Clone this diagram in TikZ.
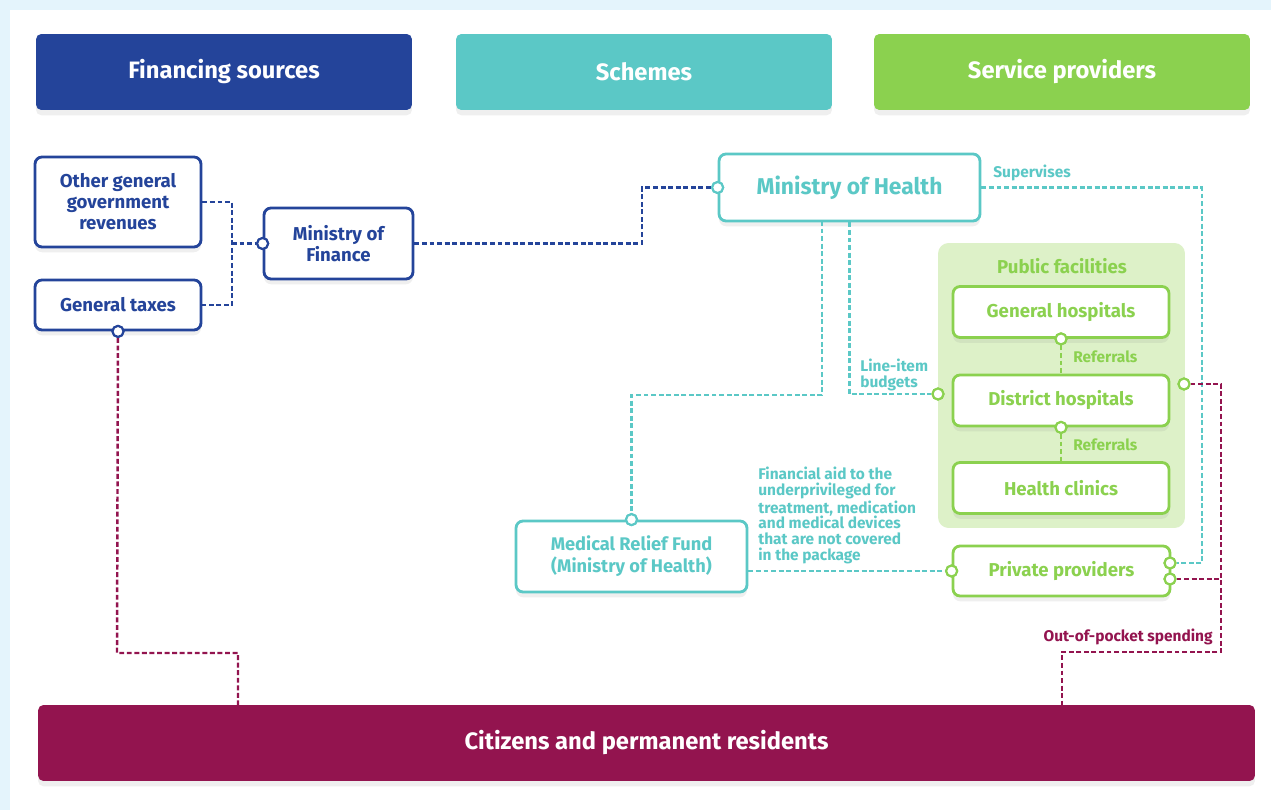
\documentclass[tikz,border=0pt]{standalone}
\usepackage{fontspec}
\setmainfont{Fira Sans}
\usetikzlibrary{positioning, calc, shadows}
\definecolor{finblue}{HTML}{24449A}
\definecolor{schteal}{HTML}{5BC8C6}
\definecolor{provgreen}{HTML}{8BD14F}
\definecolor{popmag}{HTML}{93144F}
\definecolor{panelgreen}{HTML}{DDF1C8}
\definecolor{bgblue}{HTML}{E4F4FC}
\tikzset{
    softshadow/.style={drop shadow={opacity=0.12, shadow xshift=0pt, shadow yshift=-3pt}},
    header/.style={fill=#1, rounded corners=3pt, minimum width=7.52cm, minimum height=1.52cm, text=white, font=\bfseries\fontsize{13.5}{15}\selectfont, softshadow},
    unit/.style={draw=#1, text=#1, fill=white, line width=1.6pt, rounded corners=4pt, align=center, font=\bfseries\fontsize{10.6}{12}\selectfont, softshadow},
    port/.style={circle, draw=#1, fill=white, line width=1.2pt, inner sep=0pt, minimum size=0.22cm},
    flow/.style={draw=#1, line width=1.4pt, dash pattern=on 2.8pt off 1.5pt},
    note/.style={text=#1, font=\bfseries\fontsize{8.8}{8.9}\selectfont, align=left, inner sep=0pt}
}
\begin{document}
\begin{tikzpicture}[x=0.02cm, y=-0.02cm]
    % background
    \fill[bgblue] (0,0) rectangle (1271,810);
    \fill[white] (10,10) rectangle (1271,810);

    % column headers
    \node (fin) [header=finblue] at (224,72) {Financing sources};
    \node (schemes) [header=schteal] at (644,72) {Schemes};
    \node (providers) [header=provgreen] at (1062,72) {Service providers};

    % financing sources
    \node (ogr) [unit=finblue, minimum width=3.32cm, minimum height=1.8cm] at (118,202) {Other general\\government\\revenues};
    \node (taxes) [unit=finblue, minimum width=3.32cm, minimum height=1cm] at (118,305) {General taxes};
    \node (mof) [unit=finblue, minimum width=2.98cm, minimum height=1.42cm] at (338.5,243.5) {Ministry of\\Finance};

    % schemes
    \node (moh) [unit=schteal, minimum width=5.22cm, minimum height=1.34cm, font=\bfseries\fontsize{13}{15}\selectfont] at (849.5,187.5) {Ministry of Health};
    \node (mrf) [unit=schteal, minimum width=4.62cm, minimum height=1.42cm, font=\bfseries\fontsize{10.4}{12.6}\selectfont] at (631.5,556.5) {Medical Relief Fund\\(Ministry of Health)};

    % providers
    \node (pubfac) [fill=panelgreen, rounded corners=6pt, minimum width=4.94cm, minimum height=5.7cm] at (1061.5,385.5) {};
    \node (pubtitle) [text=provgreen, font=\bfseries\fontsize{10.6}{12}\selectfont] at (1062,266) {Public facilities};
    \node (genhosp) [unit=provgreen, minimum width=4.32cm, minimum height=1.02cm] at (1061,312) {General hospitals};
    \node (disthosp) [unit=provgreen, minimum width=4.32cm, minimum height=1.02cm] at (1061,400.5) {District hospitals};
    \node (clinics) [unit=provgreen, minimum width=4.32cm, minimum height=1.02cm] at (1061,488) {Health clinics};
    \node (private) [unit=provgreen, minimum width=4.34cm, minimum height=1cm] at (1061.5,571) {Private providers};

    % population
    \node (citizens) [header=popmag, minimum width=24.34cm] at (646.5,743) {Citizens and permanent residents};

    % ports
    \node (mofin) [port=finblue] at (mof.west) {};
    \node (mohin) [port=schteal] at (moh.west) {};
    \node (mrfin) [port=schteal] at (mrf.north) {};
    \node (dhin) [port=provgreen] at (938,394) {};
    \node (ppin) [port=provgreen] at (private.west) {};
    \node (ppsup) [port=provgreen] at (1170,563) {};
    \node (ppoop) [port=provgreen] at (1170,579) {};
    \node (dhout) [port=provgreen] at (1184,384) {};
    \node (taxout) [port=finblue] at (taxes.south) {};
    \node (ghout) [port=provgreen] at (genhosp.south) {};
    \node (dhdown) [port=provgreen] at (disthosp.south) {};

    % financing flows
    \coordinate (finjoin) at (232,243.5);
    \draw [flow=finblue] (ogr.east) -| (finjoin) |- (taxes.east);
    \draw [flow=finblue] (finjoin) -- (mofin);
    \draw [flow=finblue] (mof.east) -- (642,243.5) |- (mohin);

    % scheme flows
    \draw [flow=schteal] (822,221) -- (822,395) -| (mrfin);
    \draw [flow=schteal] (moh.south) |- (dhin);
    \draw [flow=schteal] (mrf.east |- private.west) -- (ppin);
    \draw [flow=schteal] (moh.east) -| (1202,563) -- (ppsup);

    % referrals
    \draw [flow=provgreen] (ghout) -- (disthosp.north);
    \draw [flow=provgreen] (dhdown) -- (clinics.north);

    % out-of-pocket and taxes
    \draw [flow=popmag] (dhout) -| (1221,652) -| (1062,705);
    \draw [flow=popmag] (ppoop) -- (1221,579);
    \draw [flow=popmag] (taxout) -- (117,653) -| (238,705);

    % redraw ports on top
    \foreach \p/\c in {mofin/finblue, mohin/schteal, mrfin/schteal, dhin/provgreen, ppin/provgreen, ppsup/provgreen, ppoop/provgreen, dhout/provgreen, taxout/finblue, ghout/provgreen, dhdown/provgreen}
        \node [port=\c] at (\p) {};

    % labels
    \node (supnote) [note=schteal, anchor=west] at (993,173) {Supervises};
    \node (linenote) [note=schteal, anchor=north west] at (860,359) {Line-item\\budgets};
    \node (ref1) [note=provgreen, anchor=west] at (1073,357) {Referrals};
    \node (ref2) [note=provgreen, anchor=west] at (1073,445) {Referrals};
    \node (aidnote) [note=schteal, anchor=north west] at (758,467) {Financial aid to the\\underprivileged for\\treatment, medication\\and medical devices\\that are not covered\\in the package};
    \node (oopnote) [note=popmag, anchor=east] at (1213,637) {Out-of-pocket spending};
\end{tikzpicture}
\end{document}
